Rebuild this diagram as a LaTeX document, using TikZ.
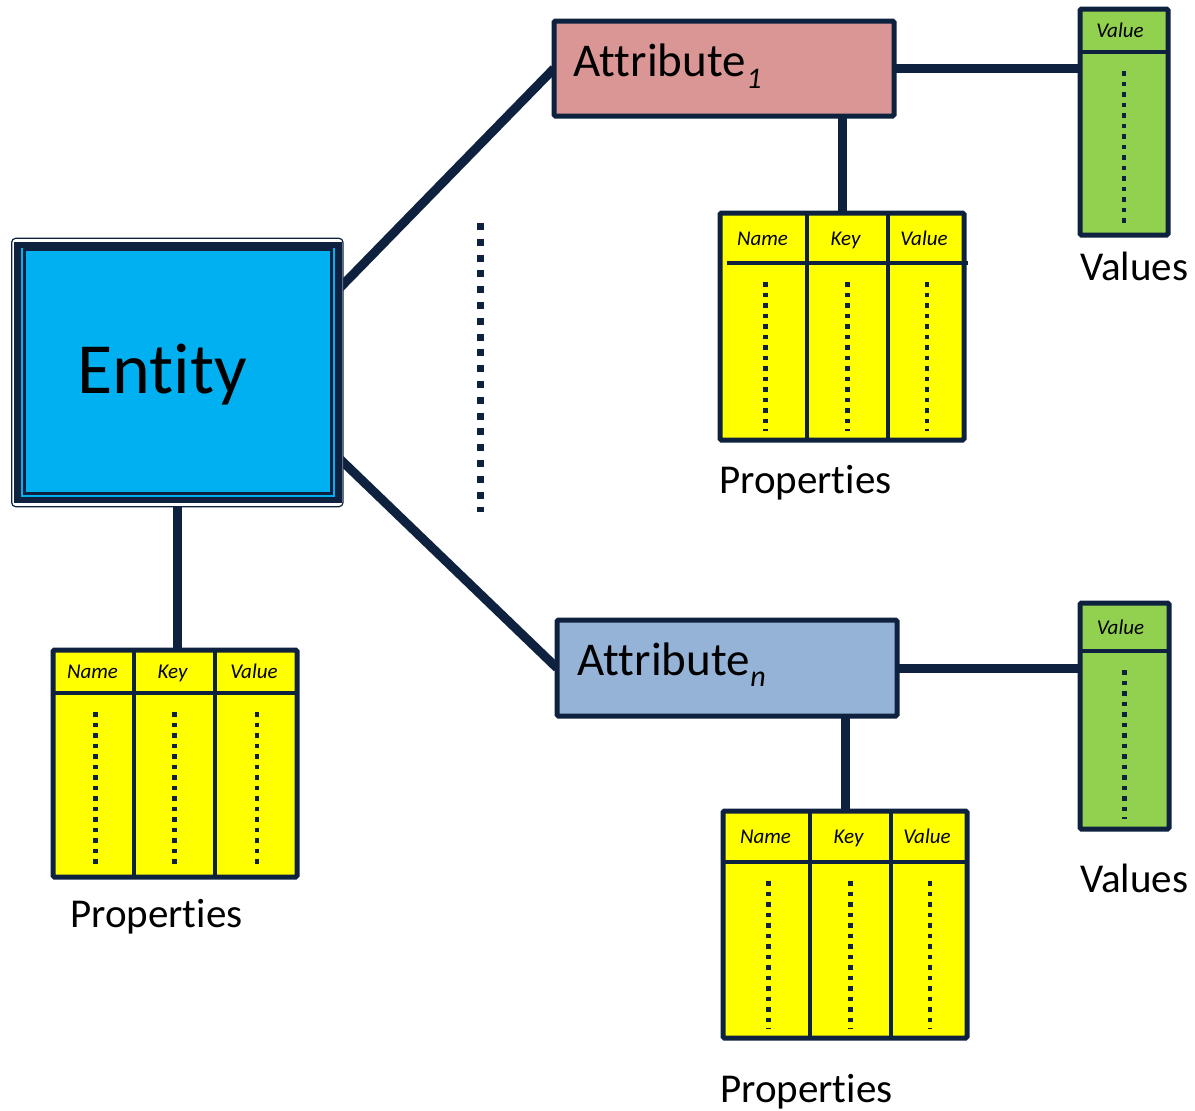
\documentclass[tikz,border=0pt]{standalone}
\usepackage{fontspec}
\setmainfont{Carlito}[RawFeature={-liga;-clig;-dlig;-calt;-rlig}]
\usetikzlibrary{calc,backgrounds}

\definecolor{navy}{HTML}{0E2240}
\definecolor{entityblue}{HTML}{00B0F0}
\definecolor{attrpink}{HTML}{D99694}
\definecolor{attrblue}{HTML}{95B3D7}
\definecolor{valgreen}{HTML}{92D050}
\definecolor{propyellow}{HTML}{FFFF00}

% separate glyph runs, so that letter pairs are never joined
\newcommand{\sep}{\kern0pt{}}

% offsets of the header rule ends in a property table
\def\hdrL{0}
\def\hdrR{0}

% property table: name, x0, x1, x2, x3 (column borders), top, header rule y, bottom
\newcommand{\proptable}[8]{%
  \node[frame, fill=propyellow, anchor=north west,
        minimum width={(#5-#2)*1pt}, minimum height={(#8-#6)*1pt}] (#1) at (#2,#6) {};
  \draw[rule] (#3,#6) -- (#3,#8);
  \draw[rule] (#4,#6) -- (#4,#8);
  \draw[rule] ({#2+\hdrL},#7) -- ({#5+\hdrR},#7);
  \node[hdr] (#1-name)  at ({(#2+#3)/2-1},{(#6+#7)/2+7}) {Name};
  \node[hdr] (#1-key)   at ({(#3+#4)/2-2},{(#6+#7)/2+7}) {Key};
  \node[hdr] (#1-value) at ({(#4+#5)/2-2},{(#6+#7)/2+7}) {Value};
  \draw[dotcol] ({(#2+#3)/2+2},{#7+19}) -- ({(#2+#3)/2+2},{#8-9});
  \draw[dotcol] ({(#3+#4)/2},{#7+19}) -- ({(#3+#4)/2},{#8-9});
  \draw[dotcol] ({(#4+#5)/2+1},{#7+19}) -- ({(#4+#5)/2+1},{#8-9});
}

% value list: name, left, top, right, bottom, header rule y
\newcommand{\valuelist}[6]{%
  \node[frame, fill=valgreen, anchor=north west,
        minimum width={(#4-#2)*1pt}, minimum height={(#5-#3)*1pt}] (#1) at (#2,#3) {};
  \draw[rule] (#2,#6) -- (#4,#6);
  \node[hdr] (#1-head) at ({(#2+#4)/2-4},{(#3+#6)/2+7}) {Value};
  \draw[dotcol] ({(#2+#4)/2},{#6+19}) -- ({(#2+#4)/2},{#5-10});
}

\begin{document}
\begin{tikzpicture}[x=1pt,y=-1pt,
  link/.style={draw=navy, line width=9pt},
  frame/.style={draw=navy, line width=5pt, rounded corners=1.5pt, inner sep=0pt, outer sep=0pt},
  rule/.style={draw=navy, line width=4.5pt},
  dotcol/.style={draw=navy, line width=4.5pt, dash pattern=on 4.5pt off 6pt},
  hdr/.style={font=\fontsize{21}{25}\selectfont\itshape, anchor=base, inner sep=0pt},
  lbl/.style={font=\fontsize{41}{49}\selectfont, anchor=base west, inner sep=0pt},
  attrtext/.style={font=\fontsize{47}{56}\selectfont, anchor=base west, inner sep=0pt}
]
\useasboundingbox (0,0) rectangle (1195,1111);

% entity with its triple frame
\draw[navy, line width=1.2pt, fill=white, rounded corners=4pt] (11.7,238.3) rectangle (343,506.7);
\node[draw=navy, line width=6.5pt, fill=entityblue, inner sep=0pt, outer sep=0pt,
      minimum width=321pt, minimum height=255pt] (entity) at (177.8,372.5) {};
\draw[navy, line width=2.5pt] (24.7,249.5) rectangle (331.5,493.3);
\node[font=\fontsize{72}{80}\selectfont, anchor=base west, inner sep=0pt] (entity-name) at (77,393) {Ent\sep i\sep ty};

% attributes
\node[frame, fill=attrpink, minimum width=340pt, minimum height=95pt] (attr1) at (724,68.5) {};
\node[attrtext] (attr1-name) at (573,76)
  {At\sep tribut\sep e\raisebox{-12pt}{\fontsize{30}{30}\selectfont\itshape 1}};
\node[frame, fill=attrblue, minimum width=340pt, minimum height=96pt] (attrn) at (727,668) {};
\node[attrtext] (attrn-name) at (577,675)
  {At\sep tribut\sep e\raisebox{-11pt}{\fontsize{30}{30}\selectfont\itshape n}};

% value lists
\valuelist{val1}{1080}{9}{1168}{235}{52}
\valuelist{val2}{1080}{603}{1169}{829}{651}
\node[lbl] (val1-label) at (1080,280) {Values};
\node[lbl] (val2-label) at (1080,892) {Values};

% property tables
\proptable{propsE}{53}{134}{215}{297}{650}{693}{877}
\def\hdrL{7}\def\hdrR{4}
\proptable{props1}{720}{807}{888}{964}{213}{263}{440}
\def\hdrL{0}\def\hdrR{0}
\proptable{propsN}{723}{810}{891}{967}{811}{862}{1038}
\node[lbl] (propsE-label) at (70,927) {Propert\sep ies};
\node[lbl] (props1-label) at (719,493) {Propert\sep ies};
\node[lbl] (propsN-label) at (720,1102) {Propert\sep ies};

% more attributes in between
\draw[navy, line width=7pt, dash pattern=on 7pt off 8.8pt] (480.5,223) -- (480.5,512);

% connectors
\begin{scope}[on background layer]
  \fill[white] (0,0) rectangle (1195,1111);
  \draw[link] ([yshift=83pt]entity.east) -- (attr1.west);
  \draw[link] ([yshift=-85pt]entity.east) -- (attrn.west);
  \draw[link] (entity.south) -- (entity.south |- propsE.north);
  \draw[link] (attr1.east) -- (attr1.east -| val1.west);
  \draw[link] (props1.north |- attr1.south) -- (props1.north);
  \draw[link] (attrn.east) -- (attrn.east -| val2.west);
  \draw[link] (propsN.north |- attrn.south) -- (propsN.north);
\end{scope}
\end{tikzpicture}
\end{document}
